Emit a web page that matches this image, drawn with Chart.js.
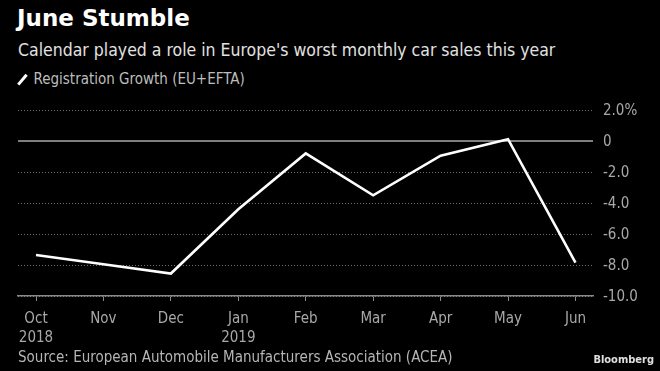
<!DOCTYPE html>
<html>
<head>
<meta charset="utf-8">
<script src="https://cdn.jsdelivr.net/npm/chart.js@4"></script>
<style>
  html, body { margin: 0; padding: 0; background: #000; }
  body { width: 660px; height: 371px; position: relative; overflow: hidden; font-family: 'DejaVu Sans Condensed', sans-serif; }
  #chart { position: absolute; left: 0; top: 0; }
  .title { position: absolute; left: 17px; top: 5px; color: #fff; font: bold 23px 'DejaVu Sans', sans-serif; }
  .subtitle { position: absolute; left: 18px; top: 40px; color: #e2e2e2; font-size: 17.5px; }
  .legend { position: absolute; left: 18px; top: 70px; color: #bdbdbd; font-size: 15px; }
  .legend .swatch { display: inline-block; width: 2.5px; height: 13px; background: #fff; transform: rotate(40deg); margin: 0 10px -2px 3px; }
  .source { position: absolute; left: 18px; top: 348px; color: #b5b5b5; font-size: 15px; }
  .brand { position: absolute; right: 6px; top: 353px; color: #e0e0e0; font: bold 11px 'DejaVu Sans Condensed', sans-serif; }
</style>
</head>
<body>
<div class="title">June Stumble</div>
<div class="subtitle">Calendar played a role in Europe's worst monthly car sales this year</div>
<div class="legend"><span class="swatch"></span>Registration Growth (EU+EFTA)</div>
<canvas id="chart" width="660" height="371"></canvas>
<div class="source">Source: European Automobile Manufacturers Association (ACEA)</div>
<div class="brand">Bloomberg</div>
<script>
const months = ['Oct', 'Nov', 'Dec', 'Jan', 'Feb', 'Mar', 'Apr', 'May', 'Jun']
const years = ['2018', '', '', '2019', '', '', '', '', '']
const growth = [-7.35, -7.95, -8.55, -4.4, -0.8, -3.5, -0.95, 0.12, -7.85]
const yTicks = [2, 0, -2, -4, -6, -8, -10]
const yTickLabels = ['2.0%', '0', '-2.0', '-4.0', '-6.0', '-8.0', '-10.0']

const points = growth.map((v, i) => ({ x: i, y: v }))

// solid zero line on top of the dotted grid
const zeroLinePlugin = {
  id: 'zeroLine',
  beforeDatasetsDraw(chart) {
    const { ctx, chartArea: { left, right }, scales: { y } } = chart
    const yPos = y.getPixelForValue(0)
    ctx.save()
    ctx.strokeStyle = '#7e7e7e'
    ctx.lineWidth = 2
    ctx.beginPath()
    ctx.moveTo(left, yPos)
    ctx.lineTo(right, yPos)
    ctx.stroke()
    ctx.restore()
  },
}

new Chart(document.getElementById('chart'), {
  type: 'line',
  data: {
    datasets: [{
      label: 'Registration Growth (EU+EFTA)',
      data: points,
      borderColor: '#ffffff',
      borderWidth: 2.6,
      pointRadius: 0,
      tension: 0,
      fill: false,
    }],
  },
  options: {
    responsive: false,
    animation: false,
    layout: { padding: { top: 110, left: 18, right: 0, bottom: 0 } },
    plugins: { legend: { display: false }, tooltip: { enabled: false } },
    scales: {
      x: {
        type: 'linear',
        min: -0.267,
        max: 8.26,
        afterBuildTicks: s => { s.ticks = months.map((m, i) => ({ value: i })) },
        afterFit: s => { s.height = 75 },
        grid: { drawOnChartArea: false, drawTicks: true, tickLength: 5, tickColor: '#8a8a8a', tickWidth: 1 },
        border: { display: true, color: '#8a8a8a', width: 1.5 },
        ticks: {
          color: '#a8a8a8',
          padding: 8,
          maxRotation: 0,
          autoSkip: false,
          font: { family: "'DejaVu Sans Condensed', sans-serif", size: 15, lineHeight: 1.3 },
          callback: v => years[v] ? [months[v], years[v]] : months[v],
        },
      },
      y: {
        position: 'right',
        min: -10,
        max: 2,
        afterBuildTicks: s => { s.ticks = yTicks.map(v => ({ value: v })) },
        afterFit: s => { s.width = 67 },
        grid: { color: '#6e6e6e', lineWidth: 1, drawTicks: false },
        border: { display: false, dash: [1, 2] },
        ticks: {
          color: '#a8a8a8',
          padding: 10,
          labelOffset: 1.5,
          crossAlign: 'near',
          font: { family: "'DejaVu Sans Condensed', sans-serif", size: 15 },
          callback: v => yTickLabels[yTicks.indexOf(v)],
        },
      },
    },
  },
  plugins: [zeroLinePlugin],
})
</script>
</body>
</html>
